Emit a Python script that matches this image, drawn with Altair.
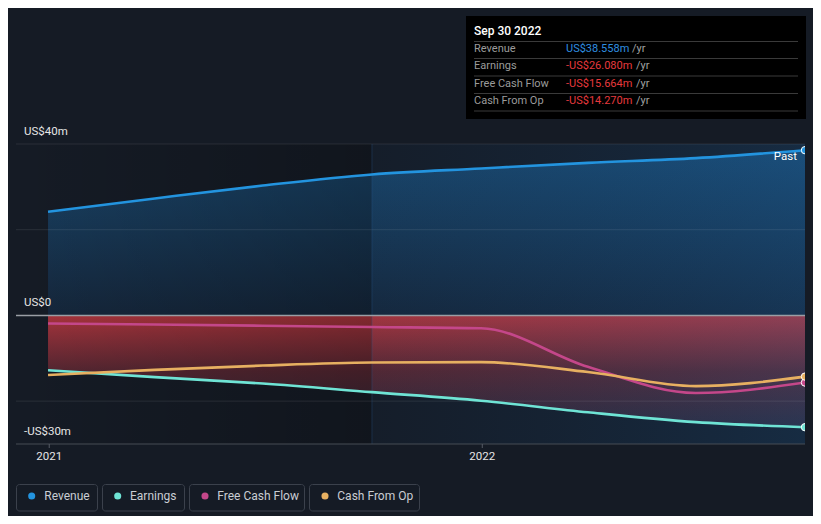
import altair as alt
import pandas as pd

# ---------------- data ----------------
dates = ["2020-12-31", "2021-03-31", "2021-06-30", "2021-09-30",
         "2021-12-31", "2022-03-31", "2022-06-30", "2022-09-30"]
revenue = [24.2, 27.3, 30.3, 32.9, 34.3, 35.6, 36.7, 38.558]
earnings = [-12.8, -14.4, -15.9, -17.9, -19.9, -22.6, -24.9, -26.080]
fcf = [-1.9, -2.1, -2.4, -2.7, -3.0, -12.0, -18.1, -15.664]
cfo = [-13.9, -12.7, -11.7, -11.0, -10.9, -13.2, -16.5, -14.270]

series_names = ["Revenue", "Earnings", "Free Cash Flow", "Cash From Op"]
series_colors = ["#2394df", "#6fe4d5", "#c4478a", "#e7b061"]

y_ticks = [40, 0, -30]
y_tick_labels = ["US$40m", "US$0", "-US$30m"]
grid_values = [40, 20, -20]
x_ticks = ["2021-01-01", "2022-01-01"]
x_tick_labels = ["2021", "2022"]
past_start = "2021-09-30"

tip_title = "Sep 30 2022"
tip_labels = ["Revenue", "Earnings", "Free Cash Flow", "Cash From Op"]
tip_values = ["US$38.558m", "-US$26.080m", "-US$15.664m", "-US$14.270m"]
tip_colors = ["#2f8fe0", "#e6393d", "#e6393d", "#e6393d"]

FONT = "Roboto"
W, H = 789, 300

rows = []
for name, vals in zip(series_names, [revenue, earnings, fcf, cfo]):
    for d, v in zip(dates, vals):
        rows.append({"date": d, "series": name, "value": v})
df = pd.DataFrame(rows)
df_rev = df[df.series == "Revenue"]
df_earn = df[df.series == "Earnings"]
df_last = df[df.date == dates[-1]]

x_scale = alt.Scale(type="utc", domain=[
    alt.DateTime(year=2020, month=12, date=4, utc=True),
    alt.DateTime(year=2022, month=9, date=30, utc=True)])
y_scale = alt.Scale(domain=[-30, 40], nice=False, zero=False)


def X(field):
    return alt.X(f"{field}:T", scale=x_scale, axis=None)


def Y(field):
    return alt.Y(f"{field}:Q", scale=y_scale, axis=None)


color_enc = alt.Color("series:N", scale=alt.Scale(domain=series_names, range=series_colors), legend=None)

# ---------------- areas ----------------
rev_area = alt.Chart(df_rev).mark_area(
    interpolate="monotone",
    color={"gradient": "linear", "x1": 0, "x2": 0, "y1": 0, "y2": 1,
           "stops": [{"offset": 0, "color": "#19456a"}, {"offset": 1, "color": "#15263a"}]}
).encode(x=X("date"), y=Y("value"), y2=alt.datum(0))

earn_area = alt.Chart(df_earn).mark_area(
    interpolate="monotone",
    color={"gradient": "linear", "x1": 0, "x2": 0, "y1": 0, "y2": 1,
           "stops": [{"offset": 0, "color": "#a8343c"},
                     {"offset": 0.5, "color": "#532631"},
                     {"offset": 1, "color": "#2b2738"}]}
).encode(x=X("date"), y=Y("value"), y2=alt.datum(0))

# ---------------- region overlays ----------------
reg_df = pd.DataFrame({"start": ["2020-12-04", past_start], "end": [past_start, dates[-1]], "kind": ["left", "right"]})
left_overlay = alt.Chart(reg_df[reg_df.kind == "left"]).mark_rect(
    fill={"gradient": "linear", "x1": 0, "x2": 1, "y1": 0, "y2": 0,
          "stops": [{"offset": 0, "color": "rgba(0,0,0,0)"}, {"offset": 1, "color": "rgba(0,0,0,0.22)"}]}
).encode(x=X("start"), x2="end:T", y=alt.value(0), y2=alt.value(H))
right_overlay = alt.Chart(reg_df[reg_df.kind == "right"]).mark_rect(
    fill={"gradient": "linear", "x1": 0, "x2": 1, "y1": 0, "y2": 0,
          "stops": [{"offset": 0, "color": "rgba(20,90,160,0.04)"}, {"offset": 1, "color": "rgba(30,120,200,0.18)"}]}
).encode(x=X("start"), x2="end:T", y=alt.value(0), y2=alt.value(H))
divider = alt.Chart(pd.DataFrame({"d": [past_start]})).mark_rule(color="#2a5a8a", opacity=0.35, strokeWidth=1).encode(
    x=X("d"), y=alt.value(0), y2=alt.value(H))

# ---------------- grid / axes ----------------
grid = alt.Chart(pd.DataFrame({"v": grid_values})).mark_rule(color="#ffffff", opacity=0.09, strokeWidth=1).encode(
    y=Y("v"), x=alt.value(0), x2=alt.value(W))
zero_line = alt.Chart(pd.DataFrame({"v": [0]})).mark_rule(color="#9a9ea5", strokeWidth=1.6).encode(
    y=Y("v"), x=alt.value(0), x2=alt.value(W))
bottom_line = alt.Chart(pd.DataFrame({"v": [-30]})).mark_rule(color="#474c55", strokeWidth=1).encode(
    y=Y("v"), x=alt.value(0), x2=alt.value(W))
ylab = alt.Chart(pd.DataFrame({"v": y_ticks, "t": y_tick_labels})).mark_text(
    align="left", baseline="middle", dy=-12, font=FONT, fontSize=11.5, color="#e6e6e6").encode(
    y=Y("v"), x=alt.value(8), text="t:N")
xticks_df = pd.DataFrame({"d": x_ticks, "t": x_tick_labels})
xtick_marks = alt.Chart(xticks_df).mark_rule(color="#575c66", strokeWidth=1).encode(
    x=X("d"), y=alt.value(H), y2=alt.value(H + 4))
xlab = alt.Chart(xticks_df).mark_text(
    align="center", baseline="middle", font=FONT, fontSize=11.5, color="#e6e6e6").encode(
    x=X("d"), y=alt.value(313), text="t:N")

# ---------------- lines ----------------
lines = alt.Chart(df).mark_line(interpolate="monotone", strokeWidth=2.6, clip=True).encode(
    x=X("date"), y=Y("value"), color=color_enc, detail="series:N")
ends = alt.Chart(df_last).mark_point(filled=True, size=55, stroke="#ffffff", strokeWidth=1, opacity=1, clip=True).encode(
    x=X("date"), y=Y("value"), fill=alt.Fill("series:N", scale=alt.Scale(domain=series_names, range=series_colors), legend=None))
past_text = alt.Chart(pd.DataFrame({"t": ["Past"]})).mark_text(
    align="right", baseline="middle", font=FONT, fontSize=11.5, color="#ffffff").encode(
    x=alt.value(781), y=alt.value(12.5), text="t:N")

# ---------------- tooltip box ----------------
box = alt.Chart(pd.DataFrame({"a": [0]})).mark_rect(fill="#000000").encode(
    x=alt.value(450), x2=alt.value(790), y=alt.value(-128), y2=alt.value(-25))
tip_t = alt.Chart(pd.DataFrame({"t": [tip_title]})).mark_text(
    align="left", baseline="middle", font=FONT, fontSize=12, fontWeight=500, color="#ffffff").encode(
    x=alt.value(458), y=alt.value(-113), text="t:N")
sep = alt.Chart(pd.DataFrame({"yy": [-102.5, -85.5, -68, -50.5, -33]})).mark_rule(color="#3a3a3a", strokeWidth=1).encode(
    y=alt.Y("yy:Q", scale=None), x=alt.value(458), x2=alt.value(782))
tip_df = pd.DataFrame({
    "lab": tip_labels, "val": tip_values, "col": tip_colors,
    "yy": [-95, -78, -60, -43], "unit_x": [616, 620, 620, 620], "unit": ["/yr"] * 4})
tip_lab = alt.Chart(tip_df).mark_text(align="left", baseline="middle", font=FONT, fontSize=11, color="#9b9b9b").encode(
    x=alt.value(458), y=alt.Y("yy:Q", scale=None), text="lab:N")
tip_val = alt.Chart(tip_df).mark_text(align="left", baseline="middle", font=FONT, fontSize=11).encode(
    x=alt.value(550), y=alt.Y("yy:Q", scale=None), text="val:N", color=alt.Color("col:N", scale=None))
tip_unit = alt.Chart(tip_df).mark_text(align="left", baseline="middle", font=FONT, fontSize=11, color="#a0a0a0").encode(
    x=alt.X("unit_x:Q", scale=None), y=alt.Y("yy:Q", scale=None), text="unit:N")

# ---------------- legend ----------------
leg_df = pd.DataFrame({
    "series": series_names,
    "bx": [0.5, 86.5, 173.5, 293.5], "bx2": [81.5, 168.5, 288.5, 403.5],
    "dx": [15.7, 101.7, 189, 309], "tx": [28.3, 114, 201.3, 321.3]})
leg_box = alt.Chart(leg_df).mark_rect(fill="#151b25", stroke="#3b414c", strokeWidth=1, cornerRadius=3).encode(
    x=alt.X("bx:Q", scale=None), x2="bx2:Q", y=alt.value(340.5), y2=alt.value(367))
leg_dot = alt.Chart(leg_df).mark_circle(size=50, opacity=1).encode(
    x=alt.X("dx:Q", scale=None), y=alt.value(352), color=color_enc)
leg_txt = alt.Chart(leg_df).mark_text(align="left", baseline="middle", font=FONT, fontSize=12, color="#c9cdd3").encode(
    x=alt.X("tx:Q", scale=None), y=alt.value(352), text="series:N")

chart = alt.layer(
    rev_area, earn_area, left_overlay, right_overlay, grid, divider, zero_line, bottom_line,
    xtick_marks, lines, ends, ylab, xlab, past_text,
    box, sep, tip_t, tip_lab, tip_val, tip_unit,
    leg_box, leg_dot, leg_txt
).resolve_scale(color="independent").properties(
    width=W, height=H,
    padding={"left": 8, "top": 136, "right": 8, "bottom": 72},
    autosize=alt.AutoSizeParams(type="none"),
    background="#151b25"
).configure_view(strokeWidth=0)

chart.save("out.html", embed_options={"renderer": "svg", "actions": False})
